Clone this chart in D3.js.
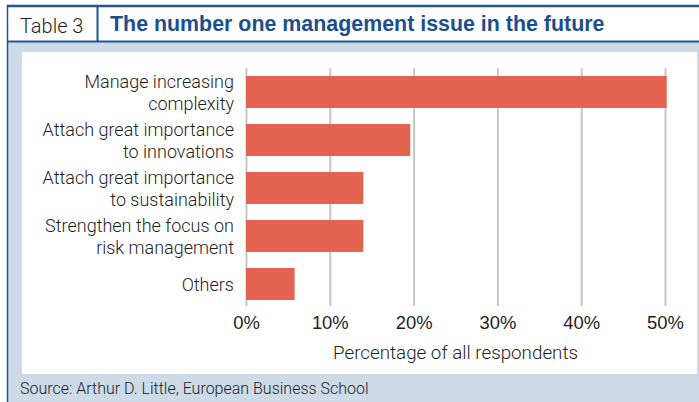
<!DOCTYPE html>
<html lang="en">
<head>
  <meta charset="UTF-8" />
  <title>Table 3 - The number one management issue in the future</title>
  <script src="https://d3js.org/d3.v7.min.js"></script>
  <style>
    html, body { margin: 0; padding: 0; background: #fff; }
    svg { display: block; font-family: Roboto, "Liberation Sans", Arial, sans-serif; font-weight: 300; }
    .cat { font-size: 18px; fill: #1e1e1e; text-anchor: end; }
    .tick text { font-size: 18.4px; fill: #1e1e1e; }
    .axis-title { font-size: 18.8px; fill: #1e1e1e; text-anchor: middle; }
    .grid line { stroke: #c6c6c6; stroke-width: 2px; }
  </style>
</head>
<body>
  <svg width="699" height="402"></svg>
  <script>
    // data
    const categories = [
      ["Manage increasing", "complexity"],
      ["Attach great importance", "to innovations"],
      ["Attach great importance", "to sustainability"],
      ["Strengthen the focus on", "risk management"],
      ["Others"]
    ];
    const values = [50.2, 19.6, 14.0, 14.0, 5.8];
    const tickValues = [0, 10, 20, 30, 40, 50];

    const W = 699, H = 402;
    const frameBlue = "#1f5593";
    const svg = d3.select("svg");

    // frame: light panel, white header, white plot area
    svg.append("rect").attr("x", 8).attr("y", 41).attr("width", W - 8).attr("height", H - 41).attr("fill", "#cddbe8");
    svg.append("rect").attr("x", 22).attr("y", 52).attr("width", 675).attr("height", 322).attr("fill", "#fff");
    svg.append("line").attr("x1", 7).attr("x2", W).attr("y1", 6).attr("y2", 6).attr("stroke", frameBlue).attr("stroke-width", 2.5);
    svg.append("line").attr("x1", 7).attr("x2", W).attr("y1", 41.5).attr("y2", 41.5).attr("stroke", frameBlue).attr("stroke-width", 1.8);
    svg.append("line").attr("x1", 7.5).attr("x2", 7.5).attr("y1", 5).attr("y2", H).attr("stroke", frameBlue).attr("stroke-width", 1.5);
    svg.append("line").attr("x1", 97.5).attr("x2", 97.5).attr("y1", 6).attr("y2", 41).attr("stroke", frameBlue).attr("stroke-width", 2);

    svg.append("text").attr("x", 20).attr("y", 32.5)
      .style("font-size", "20px").style("fill", "#1e1e1e").text("Table 3");
    svg.append("text").attr("x", 110).attr("y", 30.5)
      .style("font-family", "'Liberation Sans', Arial, sans-serif")
      .style("font-size", "21.4px").style("font-weight", "bold").style("fill", "#1a4e8c")
      .text("The number one management issue in the future");

    // scales
    const x = d3.scaleLinear().domain([0, 50]).range([246, 665]);
    const y = d3.scaleBand().domain(d3.range(categories.length))
      .range([68, 308]).paddingInner(1 / 3).paddingOuter(1 / 6);

    // gridlines + tick labels
    const axis = svg.append("g").attr("class", "grid")
      .attr("transform", "translate(0,306)")
      .call(d3.axisBottom(x).tickValues(tickValues).tickFormat(d => d + "%").tickSize(-238));
    axis.select(".domain").remove();
    axis.selectAll(".tick text").attr("y", 23).attr("dy", 0).style("font-family", "inherit");

    // bars
    svg.append("g").selectAll("rect")
      .data(values)
      .join("rect")
      .attr("x", x(0))
      .attr("y", (d, i) => y(i))
      .attr("width", d => x(d) - x(0))
      .attr("height", y.bandwidth())
      .attr("fill", "#e3634e");

    // category labels
    const lh = 21.2;
    svg.append("g").selectAll("text")
      .data(categories)
      .join("text")
      .attr("class", "cat")
      .attr("x", 234)
      .attr("y", (d, i) => y(i) + y.bandwidth() / 2 + 7 - (d.length - 1) * lh / 2)
      .selectAll("tspan")
      .data(d => d)
      .join("tspan")
      .attr("x", 234)
      .attr("dy", (d, j) => j === 0 ? 0 : lh)
      .text(d => d);

    svg.append("text").attr("class", "axis-title")
      .attr("x", (x(0) + x(50)) / 2).attr("y", 359)
      .text("Percentage of all respondents");

    svg.append("text").attr("x", 20).attr("y", 394)
      .style("font-size", "16px").style("fill", "#1e1e1e")
      .text("Source: Arthur D. Little, European Business School");
  </script>
</body>
</html>
